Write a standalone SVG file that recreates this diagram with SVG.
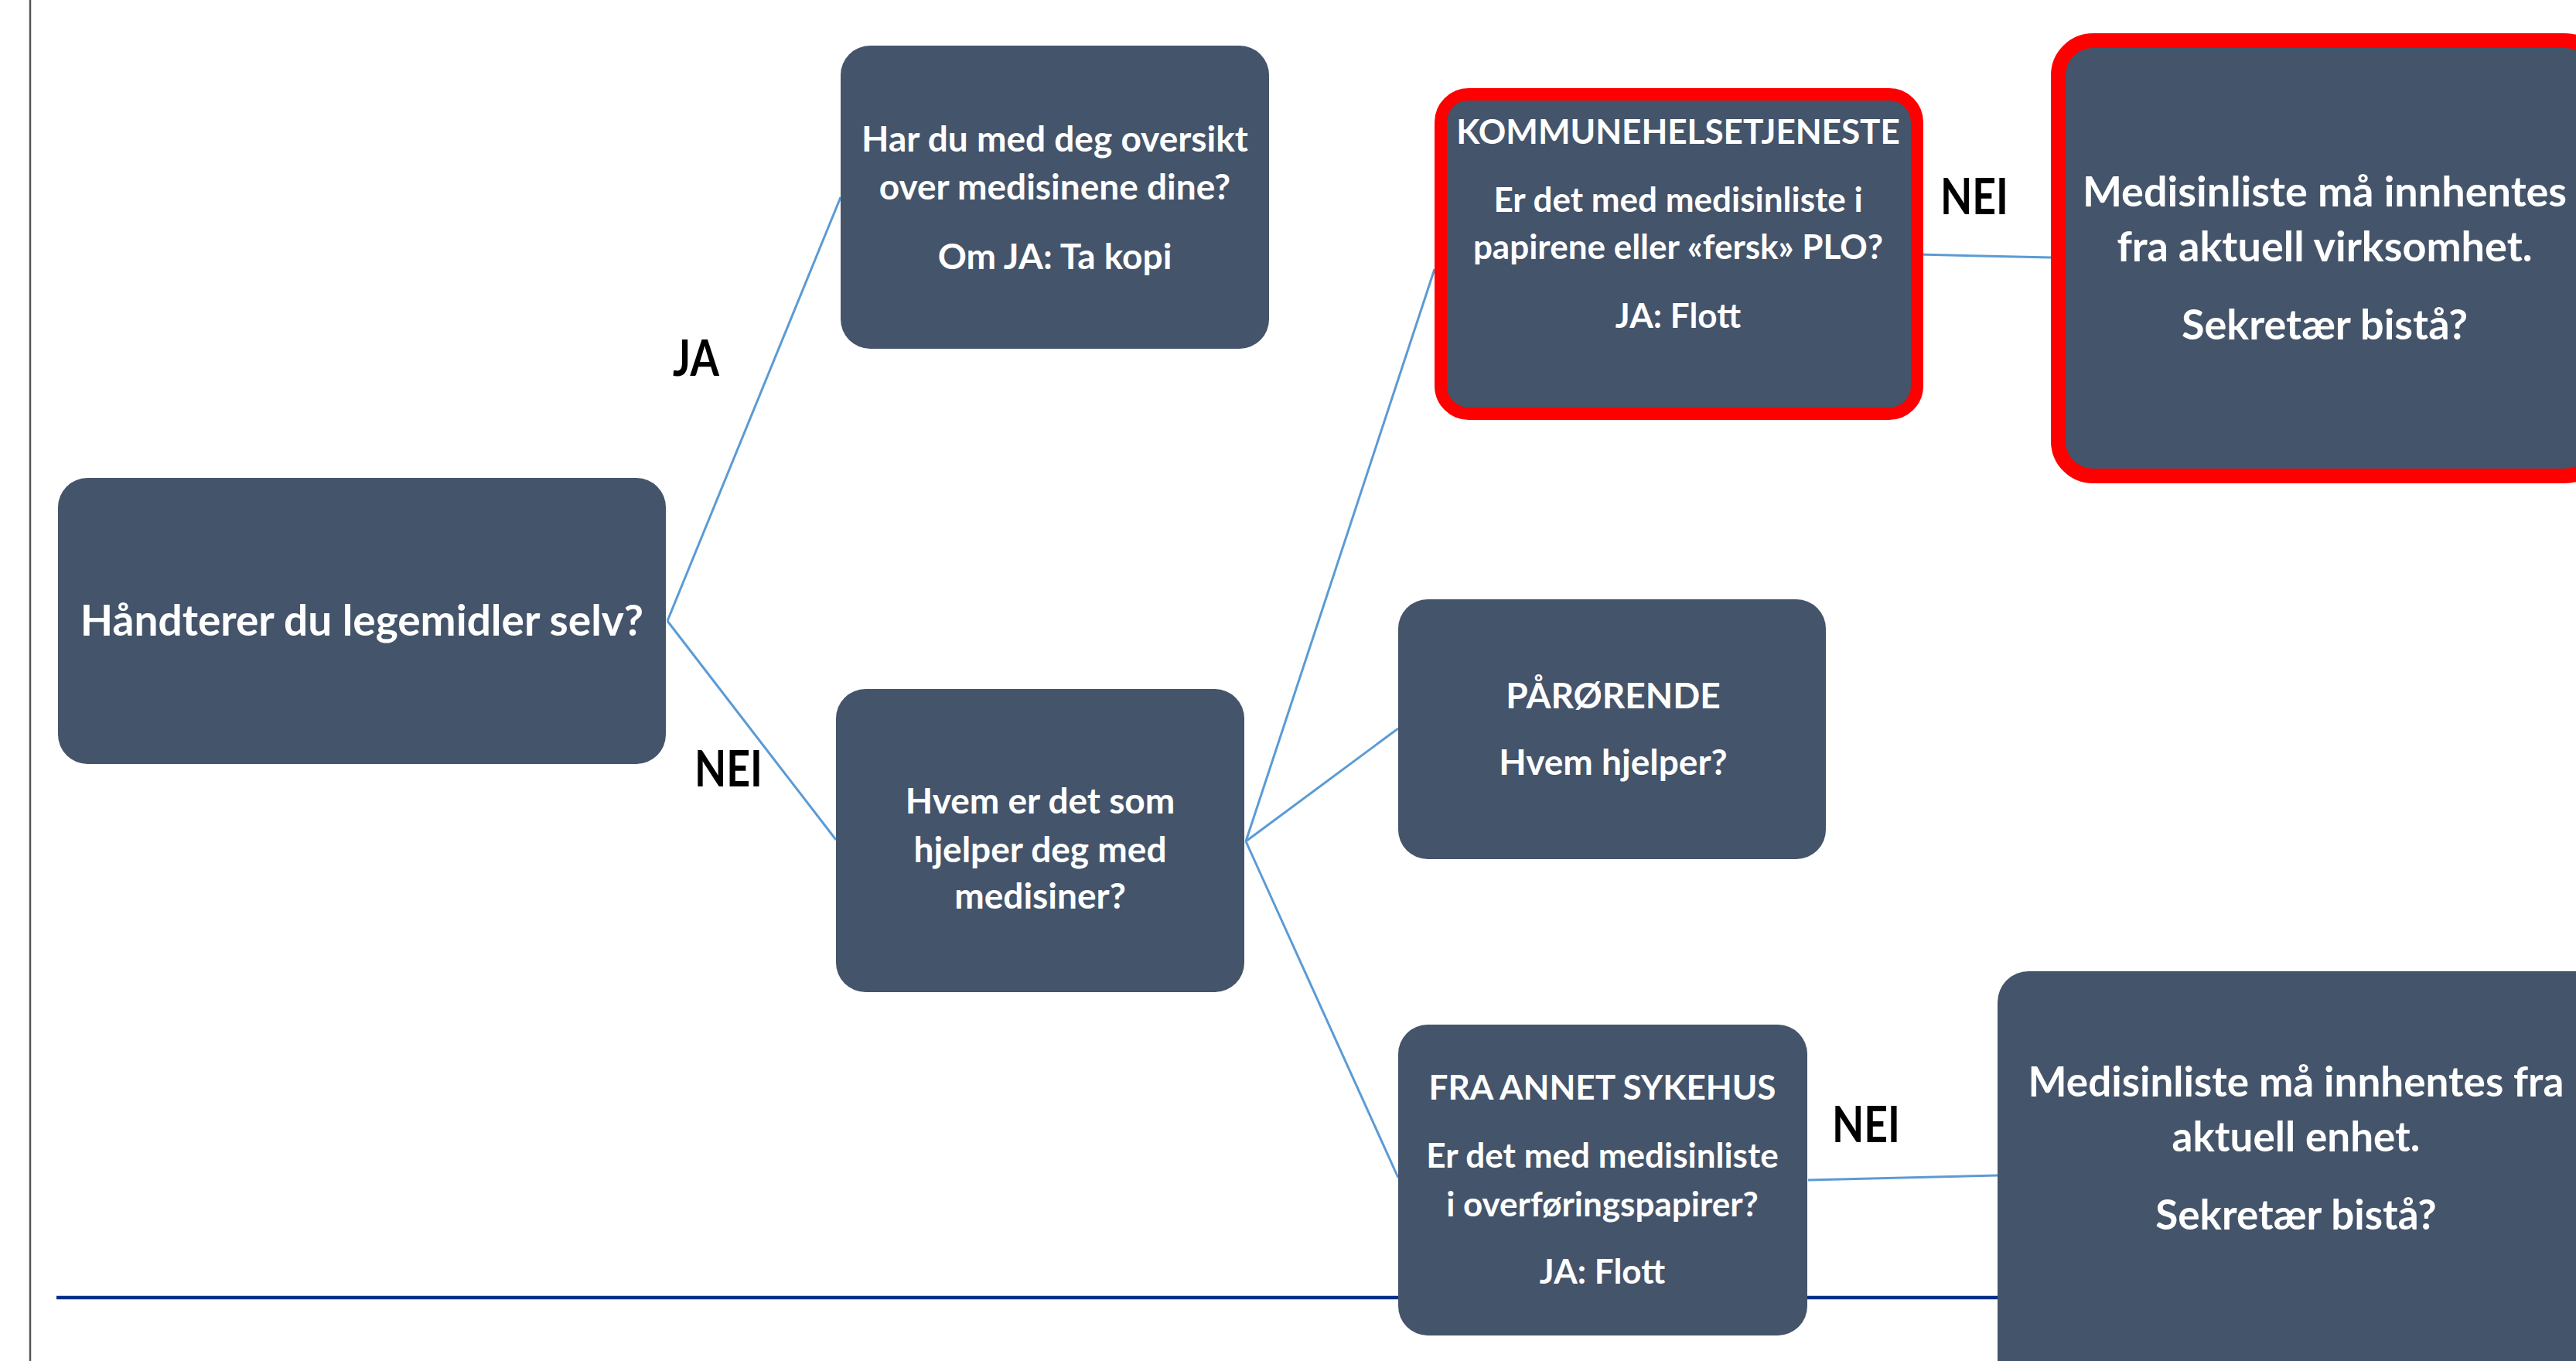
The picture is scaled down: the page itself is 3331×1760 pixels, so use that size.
<svg xmlns="http://www.w3.org/2000/svg" width="3331" height="1760" viewBox="0 0 3331 1760">
  <style>
    .box { fill: #44546A; }
    .alert { fill: #44546A; stroke: #FF0000; }
    .link { stroke: #5B9BD5; stroke-width: 3; fill: none; }
    .t { fill: #FFFFFF; font-family: Lato, "Open Sans", "Liberation Sans", sans-serif; font-weight: 700; text-anchor: middle; }
    .lbl { fill: #000000; font-family: Lato, "Open Sans", "Liberation Sans", sans-serif; font-weight: 700; text-anchor: middle; font-size: 65px; }
  </style>
  <rect width="3331" height="1760" fill="#FFFFFF"/>

  <!-- page frame lines -->
  <g id="frame">
    <line x1="39" y1="0" x2="39" y2="1760" stroke="#555555" stroke-width="2.5"/>
    <line x1="73" y1="1678" x2="3331" y2="1678" stroke="#003087" stroke-width="4.5"/>
  </g>

  <!-- connectors -->
  <g id="connectors">
    <line class="link" x1="863" y1="803" x2="1087" y2="255"/>
    <line class="link" x1="863" y1="803" x2="1081" y2="1086"/>
    <line class="link" x1="1611" y1="1088" x2="1855" y2="348"/>
    <line class="link" x1="1611" y1="1088" x2="1808" y2="942"/>
    <line class="link" x1="1611" y1="1088" x2="1808" y2="1523"/>
    <line class="link" x1="2480" y1="329" x2="2652" y2="333"/>
    <line class="link" x1="2338" y1="1526" x2="2583" y2="1520"/>
  </g>

  <!-- edge labels -->
  <g id="labels">
    <text class="lbl" x="900" y="486" textLength="60" lengthAdjust="spacingAndGlyphs">JA</text>
    <text class="lbl" x="942" y="1017" textLength="88" lengthAdjust="spacingAndGlyphs">NEI</text>
    <text class="lbl" x="2553" y="277" textLength="88" lengthAdjust="spacingAndGlyphs">NEI</text>
    <text class="lbl" x="2413" y="1477" textLength="88" lengthAdjust="spacingAndGlyphs">NEI</text>
  </g>

  <g id="start">
    <rect class="box" x="75" y="618" width="786" height="370" rx="38"/>
    <text class="t" x="468" y="822" font-size="55">Håndterer du legemidler selv?</text>
  </g>

  <g id="oversikt">
    <rect class="box" x="1087" y="59" width="554" height="392" rx="38"/>
    <text class="t" x="1364" y="196" font-size="46">Har du med deg oversikt</text>
    <text class="t" x="1364" y="258" font-size="46">over medisinene dine?</text>
    <text class="t" x="1364" y="348" font-size="46">Om JA: Ta kopi</text>
  </g>

  <g id="hvem">
    <rect class="box" x="1081" y="891" width="528" height="392" rx="38"/>
    <text class="t" x="1345" y="1052" font-size="46">Hvem er det som</text>
    <text class="t" x="1345" y="1115" font-size="46">hjelper deg med</text>
    <text class="t" x="1345" y="1175" font-size="46">medisiner?</text>
  </g>

  <g id="kommune">
    <rect class="alert" x="1863" y="122" width="616" height="413" rx="36" stroke-width="16"/>
    <text class="t" x="2170" y="186" font-size="44">KOMMUNEHELSETJENESTE</text>
    <text class="t" x="2170" y="274" font-size="44">Er det med medisinliste i</text>
    <text class="t" x="2170" y="335" font-size="44">papirene eller «fersk» PLO?</text>
    <text class="t" x="2170" y="424" font-size="44">JA: Flott</text>
  </g>

  <g id="virksomhet">
    <rect class="alert" x="2661.5" y="52.5" width="700" height="563" rx="45" stroke-width="19"/>
    <text class="t" x="3006" y="267" font-size="54">Medisinliste må innhentes</text>
    <text class="t" x="3006" y="338" font-size="54">fra aktuell virksomhet.</text>
    <text class="t" x="3006" y="439" font-size="54">Sekretær bistå?</text>
  </g>

  <g id="parorende">
    <rect class="box" x="1808" y="775" width="553" height="336" rx="38"/>
    <text class="t" x="2086" y="916" font-size="46">PÅRØRENDE</text>
    <text class="t" x="2086" y="1002" font-size="46">Hvem hjelper?</text>
  </g>

  <g id="sykehus">
    <rect class="box" x="1808" y="1325" width="529" height="402" rx="38"/>
    <text class="t" x="2072" y="1422" font-size="44">FRA ANNET SYKEHUS</text>
    <text class="t" x="2072" y="1510" font-size="44">Er det med medisinliste</text>
    <text class="t" x="2072" y="1573" font-size="44">i overføringspapirer?</text>
    <text class="t" x="2072" y="1660" font-size="44">JA: Flott</text>
  </g>

  <g id="enhet">
    <rect class="box" x="2583" y="1256" width="800" height="600" rx="40"/>
    <text class="t" x="2969" y="1418" font-size="53">Medisinliste må innhentes fra</text>
    <text class="t" x="2969" y="1489" font-size="53">aktuell enhet.</text>
    <text class="t" x="2969" y="1590" font-size="53">Sekretær bistå?</text>
  </g>
</svg>
